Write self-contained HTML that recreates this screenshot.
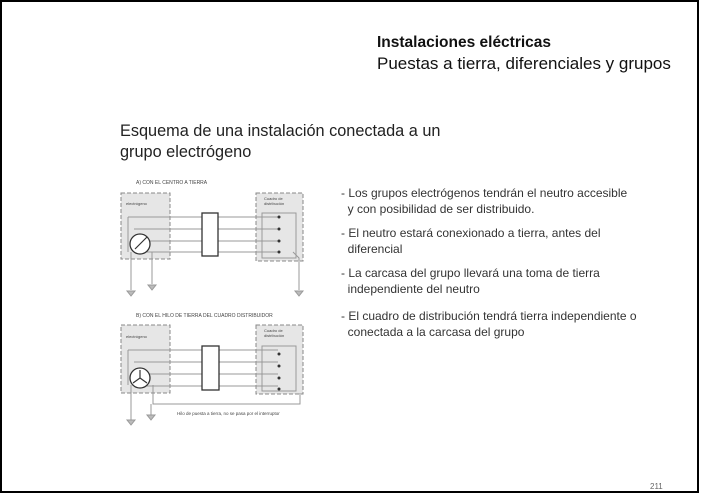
<!DOCTYPE html>
<html><head><meta charset="utf-8"><style>
body{margin:0;width:702px;height:497px;background:#fff;position:relative;overflow:hidden;font-family:"Liberation Sans",sans-serif;color:#222}
.frame{position:absolute;left:0;top:0;width:699px;height:493px;border-top:2px solid #000;border-left:2px solid #000;border-right:2px solid #000;border-bottom:2px solid #000;box-sizing:border-box}
.t{position:absolute;white-space:nowrap}
</style></head><body>
<div class="frame"></div>
<div class="t" style="left:377px;top:34px;font-size:15.5px;color:#111;font-weight:bold">Instalaciones eléctricas</div>
<div class="t" style="left:377px;top:54px;font-size:17px;color:#111">Puestas a tierra, diferenciales y grupos</div>
<div class="t" style="left:120px;top:121px;font-size:16.3px;line-height:21px;color:#222">Esquema de una instalación conectada a un<br>grupo electrógeno</div>
<div class="t" style="left:341px;top:185px;font-size:12px;line-height:16px;color:#333">
- Los grupos electrógenos tendrán el neutro accesible<br>&nbsp;&nbsp;y con posibilidad de ser distribuido.</div>
<div class="t" style="left:341px;top:225px;font-size:12px;line-height:16px;color:#333">
- El neutro estará conexionado a tierra, antes del<br>&nbsp;&nbsp;diferencial</div>
<div class="t" style="left:341px;top:265px;font-size:12px;line-height:16px;color:#333">
- La carcasa del grupo llevará una toma de tierra<br>&nbsp;&nbsp;independiente del neutro</div>
<div class="t" style="left:341px;top:308px;font-size:12px;line-height:16px;color:#333">
- El cuadro de distribución tendrá tierra independiente o<br>&nbsp;&nbsp;conectada a la carcasa del grupo</div>
<div class="t" style="top:482px;font-size:8px;color:#666;left:650px">211</div>
<svg width="702" height="497" style="position:absolute;left:0;top:0" font-family="Liberation Sans" >
<g fill="#e6e6e6" stroke="#888" stroke-dasharray="4,2" stroke-width="1">
<rect x="121" y="193" width="49" height="66"/><rect x="256" y="193" width="47" height="68"/>
<rect x="121" y="325" width="49" height="68"/><rect x="256" y="325" width="47" height="69"/>
</g>
<g fill="none" stroke="#999" stroke-width="1">
<rect x="262" y="213" width="34" height="45"/><rect x="262" y="346" width="34" height="45"/>
<path d="M128 217H278M128 217V252M134 229H278M146 241H278M140 252H278"/>
<path d="M131 252V290M152 252V284M293 252L299 258V290"/>
<path d="M128 350H278M128 350V385M134 362H278M146 374H278M140 386H278"/>
<path d="M131 385V420M153 385V404H300V393M151 404V415"/>
<path d="M127 291h8l-4 5z M148 285h8l-4 5z M295 291h8l-4 5z M127 420h8l-4 5z M147 415h8l-4 5z" fill="#bbb"/>
</g>
<g stroke="#333" stroke-width="1.3" fill="#fff">
<circle cx="140" cy="244" r="10"/><circle cx="140" cy="378" r="10"/>
<rect x="202" y="213" width="16" height="43"/><rect x="202" y="346" width="17" height="44"/>
</g>
<path d="M135 249L147 237M140 378V370M140 378L133 383M140 378L147 383" stroke="#333" stroke-width="1.2"/>
<g fill="#333"><circle cx="279" cy="217" r="1.5"/><circle cx="279" cy="229" r="1.5"/><circle cx="279" cy="241" r="1.5"/><circle cx="279" cy="252" r="1.5"/>
<circle cx="279" cy="354" r="1.5"/><circle cx="279" cy="366" r="1.5"/><circle cx="279" cy="378" r="1.5"/><circle cx="279" cy="389" r="1.5"/></g>
<g font-size="5" fill="#444">
<text x="136" y="184">A) CON EL CENTRO A TIERRA</text>
<text x="136" y="317">B) CON EL HILO DE TIERRA DEL CUADRO DISTRIBUIDOR</text>
<text x="126" y="205" font-size="4">electrógeno</text><text x="126" y="338" font-size="4">electrógeno</text>
<text x="264" y="200" font-size="4">Cuadro de</text><text x="264" y="205" font-size="4">distribución</text>
<text x="264" y="332" font-size="4">Cuadro de</text><text x="264" y="337" font-size="4">distribución</text>
<text x="177" y="415" font-size="4.5">Hilo de puesta a tierra, no se pasa por el interruptor</text>
</g>
</svg>
</body></html>
